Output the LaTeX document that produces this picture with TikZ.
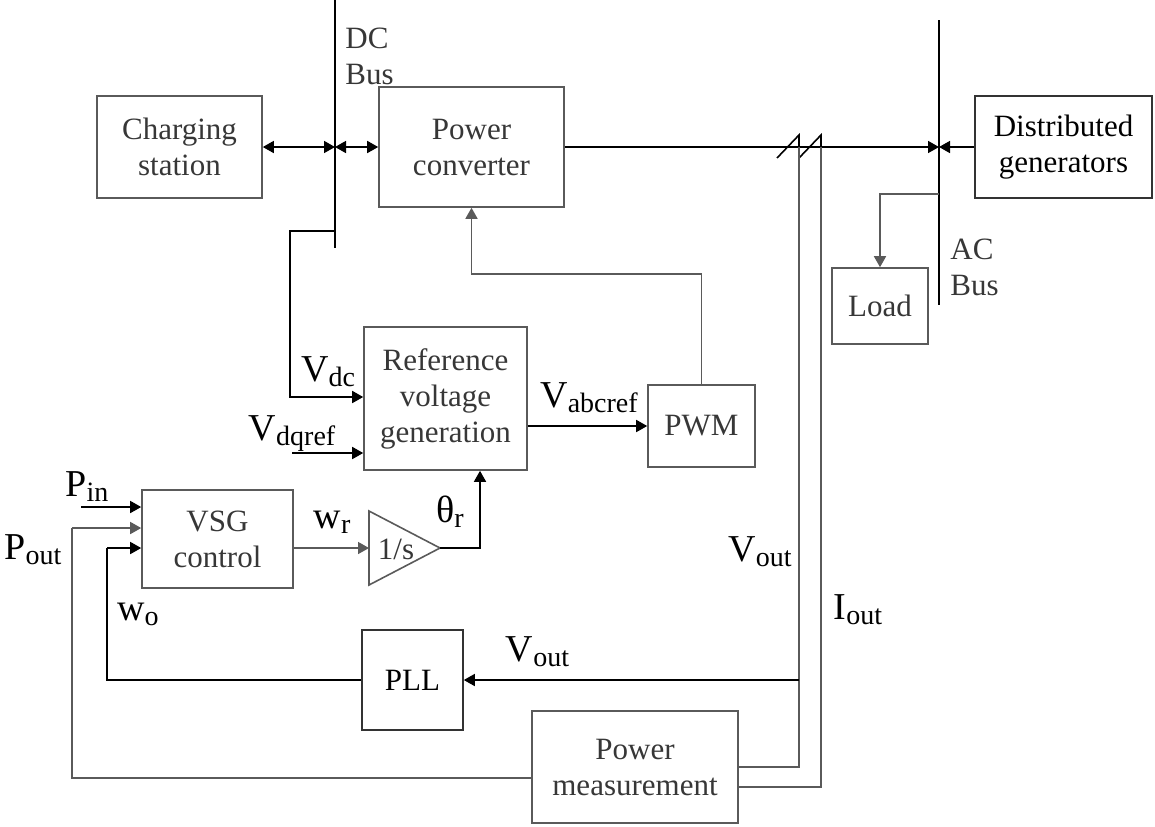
\documentclass[tikz,border=0pt]{standalone}
\usepackage{fontspec}
\setmainfont{Liberation Serif}
\usetikzlibrary{arrows.meta,positioning,calc}
\definecolor{boxgray}{RGB}{90,90,90}
\definecolor{txtgray}{RGB}{55,55,55}
\newcommand{\lsub}[1]{\raisebox{-2.5pt}{\fontsize{14pt}{14pt}\selectfont #1}}
\tikzset{
    block/.style={rectangle, draw=boxgray, line width=0.8pt, text=txtgray, align=center, inner sep=0pt, font=\fontsize{15.5pt}{18pt}\selectfont},
    arrow/.style={-{Triangle[length=5.5pt,width=6pt]}, line width=0.8pt},
    dblarrow/.style={{Triangle[length=5.5pt,width=6pt]}-{Triangle[length=5.5pt,width=6pt]}, line width=0.8pt},
    garrow/.style={arrow, boxgray},
    wire/.style={line width=0.8pt},
    gwire/.style={wire, boxgray},
    bus/.style={line width=1pt},
    sig/.style={font=\fontsize{19pt}{21pt}\selectfont, inner sep=0pt},
    buslabel/.style={align=left, text=txtgray, font=\fontsize{15.5pt}{18pt}\selectfont, inner sep=0pt, anchor=west}
}

\begin{document}
\begin{tikzpicture}[x=0.5pt, y=-0.5pt]
\useasboundingbox (0,0) rectangle (1155,826);

% Blocks
\node[block, minimum width=82.5pt, minimum height=51pt] (charging) at (179.5,147) {Charging\\station};
\node[block, minimum width=92.5pt, minimum height=60pt] (conv) at (471.5,147) {Power\\converter};
\node[block, minimum width=88.5pt, minimum height=51pt, text=black, draw=black!80] (dg) at (1063.5,147) {Distributed\\generators};
\node[block, minimum width=48pt, minimum height=38pt] (load) at (880,306) {Load};
\node[block, minimum width=81.5pt, minimum height=71.5pt] (refgen) at (445.5,398.5) {Reference\\voltage\\generation};
\node[block, minimum width=53.5pt, minimum height=41pt] (pwm) at (701.5,426) {PWM};
\node[block, minimum width=75.5pt, minimum height=49pt] (vsg) at (217.5,539) {VSG\\control};
\node[block, minimum width=50.5pt, minimum height=50pt, text=black, draw=black!80] (pll) at (412.5,680) {PLL};
\node[block, minimum width=103pt, minimum height=56pt] (pm) at (635,767) {Power\\measurement};

% Integrator
\coordinate (intin) at (369,548);
\coordinate (inttop) at (369,511);
\coordinate (intbot) at (369,585);
\coordinate (intout) at (440,548);
\draw[gwire] (inttop) -- (intout) -- (intbot) -- cycle;
\node[text=txtgray, font=\fontsize{15.5pt}{18pt}\selectfont, inner sep=0pt] (intlbl) at (396,549) {1/s};

% DC and AC buses
\coordinate (dctop) at (335,0);
\coordinate (dcbot) at (335,248);
\coordinate (dcA) at (335,147);
\coordinate (dcB) at (335,231);
\draw[bus] (dctop) -- (dcbot);
\node[buslabel] (dclbl) at (345,56) {DC\\Bus};

\coordinate (actop) at (939,20);
\coordinate (acbot) at (939,305);
\coordinate (acA) at (939,147);
\coordinate (acB) at (939,194);
\draw[bus] (actop) -- (acbot);
\node[buslabel] (aclbl) at (950,267) {AC\\Bus};

% Power flow
\draw[dblarrow] (charging.east) -- (dcA);
\draw[dblarrow] (dcA) -- (conv.west);
\draw[arrow] (conv.east) -- (acA);
\draw[arrow] (acA -| dg.west) -- (acA);
\draw[garrow] (acB) -| (load.north);

% Measurement taps
\coordinate (vtop) at (799,135);
\coordinate (itop) at (821,135);
\draw[wire] (777,158) -- (vtop) -- (799,147);
\draw[wire] (799,158) -- (itop) -- (821,147);
\draw[gwire] (799,147) |- (pm.east);
\draw[gwire] (821,147) |- ([yshift=-10pt]pm.east);
\coordinate (vtap) at (799,680);
\draw[arrow] (vtap) -- (vtap -| pll.east) node[sig, pos=0.78, above=6pt] {V\lsub{out}};
\node[sig] (voutlbl) at (760,552) {V\lsub{out}};
\node[sig] (ioutlbl) at (858,610) {I\lsub{out}};

% PWM to converter
\draw[garrow] (pwm.north) -- ++(0,-110) -| (conv.south);

% Reference voltage inputs
\draw[arrow] (dcB) -- ++(-45,0) |- ([yshift=0.75pt]refgen.west);
\node[sig] (vdclbl) at (328,372) {V\lsub{dc}};
\coordinate (vdqin) at (292,453);
\draw[arrow] (vdqin) -- (vdqin -| refgen.west);
\node[sig] (vdqlbl) at (292,434) {V\lsub{dqref}};
\draw[arrow] (pwm.west -| refgen.east) -- (pwm.west);
\node[sig] (vabclbl) at (589,398) {V\lsub{abcref}};

% VSG loop
\coordinate (pin) at (81,507);
\draw[arrow] (pin) -- (pin -| vsg.west);
\node[sig] (pinlbl) at (87,487) {P\lsub{in}};
\coordinate (poutx) at (72,528);
\draw[gwire] ([yshift=-5.5pt]pm.west) -| (poutx);
\draw[garrow] (poutx) -- (poutx -| vsg.west);
\node[sig] (poutlbl) at (33,550) {P\lsub{out}};
\coordinate (wox) at (107,548);
\draw[wire] (pll.west) -| (wox);
\draw[arrow] (wox) -- (wox -| vsg.west);
\node[sig] (wolbl) at (138,614) {w\lsub{o}};
\draw[garrow] (intin -| vsg.east) -- (intin);
\node[sig] (wrlbl) at (332,522) {w\lsub{r}};
\draw[arrow] (intout) -| ([xshift=17.25pt]refgen.south);
\node[sig] (thlbl) at (450,512) {θ\lsub{r}};

\end{tikzpicture}
\end{document}
